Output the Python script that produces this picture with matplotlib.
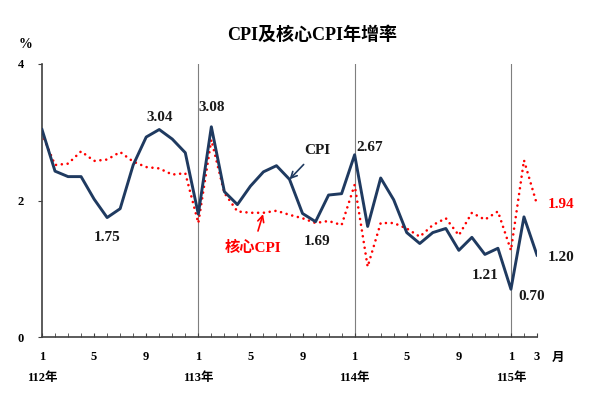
import matplotlib
matplotlib.use("Agg")
import matplotlib.pyplot as plt
from matplotlib.ticker import FixedLocator

plt.rcParams['font.family'] = ['Liberation Serif', 'Noto Sans CJK TC', 'DejaVu Sans']
plt.rcParams['font.weight'] = 'bold'

# ---- data ----
cpi = [3.04, 2.43, 2.35, 2.35, 2.02, 1.75, 1.88, 2.52, 2.93, 3.04, 2.90, 2.70,
       1.80, 3.08, 2.13, 1.94, 2.21, 2.42, 2.51, 2.31, 1.81, 1.69, 2.08, 2.10,
       2.67, 1.62, 2.33, 2.01, 1.53, 1.37, 1.53, 1.59, 1.27, 1.46, 1.21, 1.30,
       0.70, 1.76, 1.20]
core = [2.98, 2.52, 2.54, 2.72, 2.58, 2.60, 2.71, 2.57, 2.49, 2.47, 2.38, 2.40,
        1.67, 2.89, 2.11, 1.84, 1.82, 1.82, 1.85, 1.79, 1.74, 1.67, 1.70, 1.64,
        2.23, 1.03, 1.67, 1.67, 1.59, 1.47, 1.64, 1.74, 1.49, 1.82, 1.72, 1.84,
        1.27, 2.59, 1.94]
month_ticks = [0, 4, 8, 12, 16, 20, 24, 28, 32, 36, 38]
month_labels = ['1', '5', '9', '1', '5', '9', '1', '5', '9', '1', '3']
year_pos = [0, 12, 24, 36]
year_labels = ['112年', '113年', '114年', '115年']
title = 'CPI及核心CPI年增率'

navy = '#1F3A60'
red = '#FF0000'

fig = plt.figure(figsize=(6, 4), dpi=100)
ax = fig.add_axes([0.07, 0.1575, 0.825, 0.6825])
x = list(range(len(cpi)))

for yp in year_pos[1:]:
    ax.axvline(yp, color='#7F7F7F', lw=0.8, zorder=1)

ax.plot(x, core, color=red, lw=1.9, ls=(0, (0.01, 2.2)), dash_capstyle='round', zorder=2)
ax.plot(x, cpi, color=navy, lw=2.1, zorder=3)

ax.set_xlim(0, 38)
ax.set_ylim(0, 4)
for s in ['top', 'right']:
    ax.spines[s].set_visible(False)
for s in ['left', 'bottom']:
    ax.spines[s].set_color('#404040')
    ax.spines[s].set_linewidth(1.2)

ax.set_yticks([0, 2, 4])
ax.set_yticklabels(['0', '2', '4'], fontsize=9, fontweight='bold')
ax.tick_params(axis='y', direction='out', length=3, pad=10, color='#404040')
ax.set_xticks(month_ticks)
ax.set_xticklabels(month_labels, fontsize=9, fontweight='bold')
ax.xaxis.set_minor_locator(FixedLocator(x))
ax.tick_params(axis='x', which='both', direction='in', length=3, pad=10, color='#404040')

for p, lab in zip(year_pos, year_labels):
    ax.text(p, -0.152, lab, transform=ax.get_xaxis_transform(), ha='center', va='center',
            fontsize=9, fontweight='bold')
ax.text(39.6, -0.078, '月', transform=ax.get_xaxis_transform(), ha='center', va='center',
        fontsize=9, fontweight='bold')

fig.text(25 / 600, 1 - 45 / 400, '%', ha='center', va='center', fontsize=10, fontweight='bold')
fig.text(0.52, 1 - 35 / 400, title, ha='center', va='center', fontsize=13, fontweight='bold')

def lab(i, vals, dx, dy, color='#1A1A1A'):
    ax.annotate(f'{vals[i]:.2f}', xy=(i, vals[i]), xytext=(dx, dy), textcoords='offset points',
                ha='center', va='center', fontsize=11, fontweight='bold', color=color)

lab(9, cpi, 0, 9)
lab(5, cpi, 0, -14.5)
lab(13, cpi, 0, 14)
lab(21, cpi, 1, -14.5)
lab(24, cpi, 11, 5.5)
lab(34, cpi, 0, -15.5)
lab(36, cpi, 15, -5)
lab(38, cpi, 17, -2)
lab(38, core, 17, 0, color=red)

ax.annotate('CPI', xy=(19, cpi[19]), xytext=(20, 21), textcoords='offset points',
            ha='center', va='center', fontsize=11, fontweight='bold', color='#1A1A1A',
            arrowprops=dict(arrowstyle='->', color=navy, lw=1.2, shrinkA=5, shrinkB=0))
ax.annotate('核心CPI', xy=(17, core[17]), xytext=(-7.5, -25), textcoords='offset points',
            ha='center', va='center', fontsize=11, fontweight='bold', color=red,
            arrowprops=dict(arrowstyle='->', color=red, lw=1.2, shrinkA=5, shrinkB=1))

fig.savefig('out.png', dpi=100)
